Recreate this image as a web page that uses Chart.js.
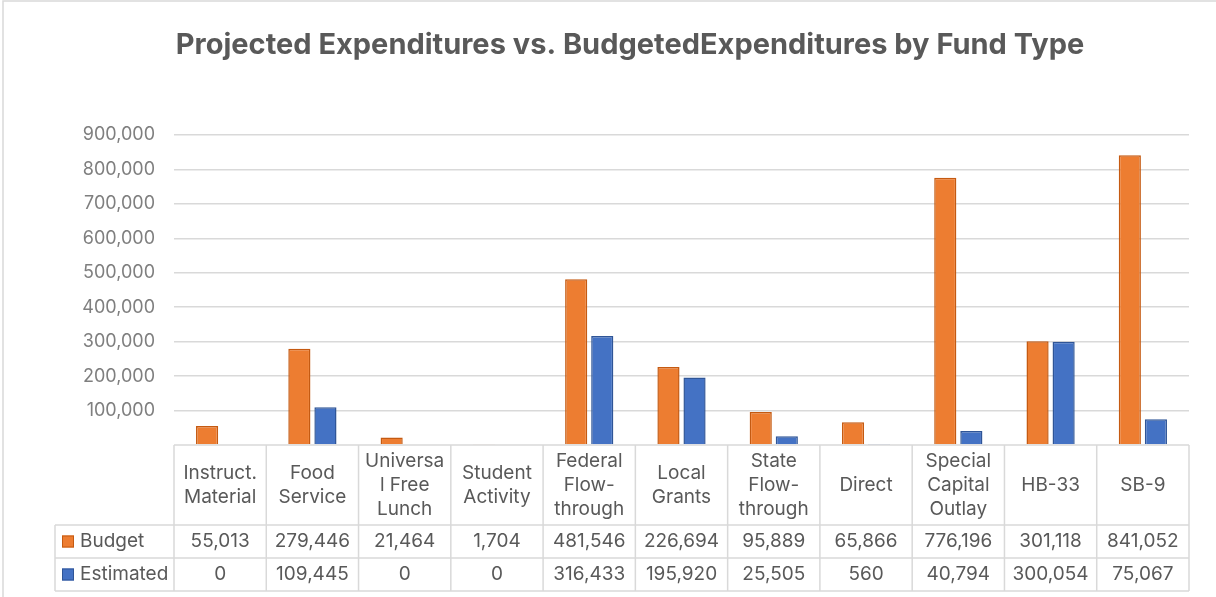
<!DOCTYPE html>
<html>
<head>
<meta charset="utf-8">
<script src="https://cdn.jsdelivr.net/npm/chart.js@4.4.1/dist/chart.umd.min.js"></script>
<style>
  html, body { margin: 0; padding: 0; background: #fff; }
  #wrap { width: 1216px; height: 597px; position: relative; }
</style>
</head>
<body>
<div id="wrap"><canvas id="fundChart" width="1216" height="597"></canvas></div>
<script>
// Chart data
const categories = [
  ["Instruct.", "Material"],
  ["Food", "Service"],
  ["Universa", "l Free", "Lunch"],
  ["Student", "Activity"],
  ["Federal", "Flow-", "through"],
  ["Local", "Grants"],
  ["State", "Flow-", "through"],
  ["Direct"],
  ["Special", "Capital", "Outlay"],
  ["HB-33"],
  ["SB-9"]
];
const budget = [55013, 279446, 21464, 1704, 481546, 226694, 95889, 65866, 776196, 301118, 841052];
const estimated = [0, 109445, 0, 0, 316433, 195920, 25505, 560, 40794, 300054, 75067];
const yTicks = [100000, 200000, 300000, 400000, 500000, 600000, 700000, 800000, 900000];

const chartTitle = "Projected Expenditures vs. BudgetedExpenditures by Fund Type";
const seriesNames = ["Budget", "Estimated"];
const seriesColors = ["#ED7D31", "#4472C4"];
const seriesBorders = ["#C55A11", "#2F5597"];

const gridColor = "#D9D9D9";
const textColor = "#595959";
const fontFamily = "Inter, 'Open Sans', sans-serif";

function fmt(n) {
  return n.toLocaleString("en-US");
}

// plugin vẽ tiêu đề, khung và bảng dữ liệu bên dưới
const dataTablePlugin = {
  id: "dataTable",
  afterDraw(chart) {
    const ctx = chart.ctx;
    const xs = chart.scales.x;
    const area = chart.chartArea;
    const colW = (area.right - area.left) / categories.length;
    const top = area.bottom;
    const headBottom = top + 80;
    const row1 = headBottom + 33;
    const row2 = row1 + 33;
    const legendLeft = 55;

    ctx.save();
    // outer border
    ctx.strokeStyle = gridColor;
    ctx.lineWidth = 1.5;
    ctx.beginPath();
    ctx.moveTo(3, 597);
    ctx.lineTo(3, 1);
    ctx.lineTo(1216, 1);
    ctx.stroke();

    // title
    ctx.fillStyle = textColor;
    ctx.font = "bold 29px " + fontFamily;
    ctx.textAlign = "center";
    ctx.textBaseline = "middle";
    ctx.fillText(chartTitle, 630, 45);

    // table lines
    ctx.strokeStyle = gridColor;
    ctx.lineWidth = 1.5;
    ctx.beginPath();
    ctx.moveTo(area.left, top); ctx.lineTo(area.right, top);
    ctx.moveTo(legendLeft, headBottom); ctx.lineTo(area.right, headBottom);
    ctx.moveTo(legendLeft, row1); ctx.lineTo(area.right, row1);
    ctx.moveTo(legendLeft, row2); ctx.lineTo(area.right, row2);
    ctx.moveTo(legendLeft, headBottom); ctx.lineTo(legendLeft, row2);
    for (let i = 0; i <= categories.length; i++) {
      const x = area.left + i * colW;
      ctx.moveTo(x, top); ctx.lineTo(x, row2);
    }
    ctx.stroke();

    // header text
    ctx.fillStyle = textColor;
    ctx.font = "19px " + fontFamily;
    ctx.textAlign = "center";
    const lineH = 24;
    categories.forEach((lines, i) => {
      const cx = xs.getPixelForValue(i);
      const midY = (top + headBottom) / 2;
      const startY = midY - (lines.length - 1) * lineH / 2;
      lines.forEach((t, j) => ctx.fillText(t, cx, startY + j * lineH));
    });

    // value rows
    const rows = [budget, estimated];
    const rowMids = [(headBottom + row1) / 2, (row1 + row2) / 2];
    rows.forEach((vals, r) => {
      vals.forEach((v, i) => {
        ctx.fillText(fmt(v), xs.getPixelForValue(i), rowMids[r]);
      });
      // legend key
      ctx.fillStyle = seriesColors[r];
      ctx.strokeStyle = seriesBorders[r];
      ctx.lineWidth = 1;
      ctx.fillRect(62, rowMids[r] - 6, 12, 12);
      ctx.strokeRect(62.5, rowMids[r] - 5.5, 11, 11);
      ctx.fillStyle = textColor;
      ctx.textAlign = "left";
      ctx.fillText(seriesNames[r], 80, rowMids[r]);
      ctx.textAlign = "center";
    });
    ctx.restore();
  }
};

const ctx = document.getElementById("fundChart").getContext("2d");
new Chart(ctx, {
  type: "bar",
  data: {
    labels: categories.map(c => c.join(" ")),
    datasets: [
      {
        label: seriesNames[0],
        data: budget,
        backgroundColor: seriesColors[0],
        borderColor: seriesBorders[0],
        borderWidth: 1.5,
        borderSkipped: "bottom"
      },
      {
        label: seriesNames[1],
        data: estimated,
        backgroundColor: seriesColors[1],
        borderColor: seriesBorders[1],
        borderWidth: 1.5,
        borderSkipped: "bottom"
      }
    ]
  },
  options: {
    responsive: false,
    animation: false,
    devicePixelRatio: 1,
    categoryPercentage: 0.565,
    barPercentage: 0.85,
    layout: {
      padding: { top: 135, bottom: 144, left: 0, right: 27 }
    },
    plugins: {
      legend: { display: false },
      title: { display: false },
      tooltip: { enabled: false }
    },
    scales: {
      x: {
        grid: { display: false },
        border: { display: false },
        ticks: { display: false }
      },
      y: {
        min: 0,
        max: 900000,
        afterBuildTicks(axis) {
          axis.ticks = [0].concat(yTicks).map(v => ({ value: v }));
        },
        afterFit(axis) {
          axis.width = 174;
        },
        grid: {
          color: (c) => c.tick && c.tick.value === 0 ? "rgba(0,0,0,0)" : gridColor,
          lineWidth: 1.5,
          drawTicks: false
        },
        border: { display: false },
        ticks: {
          color: "#7F7F7F",
          padding: 19,
          font: { family: fontFamily, size: 18 },
          callback: (v) => v === 0 ? "" : fmt(v)
        }
      }
    }
  },
  plugins: [dataTablePlugin]
});
</script>
</body>
</html>
